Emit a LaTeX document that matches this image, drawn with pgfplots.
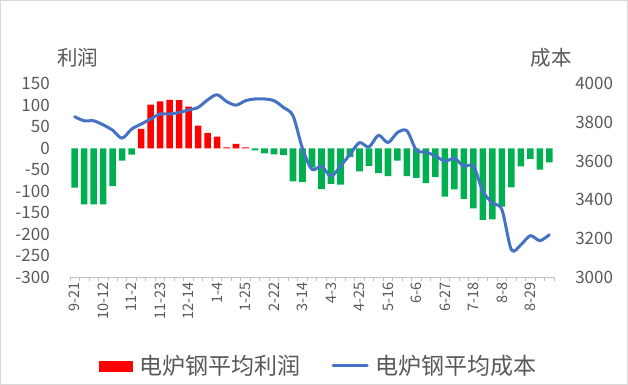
\documentclass[border=0pt]{standalone}
\usepackage{pgfplots}
\pgfplotsset{compat=1.18}
\usepackage{fontspec}
\setmainfont{Noto Sans CJK SC}
\definecolor{cred}{HTML}{FF0000}
\definecolor{cgreen}{HTML}{00B050}
\definecolor{cblue}{HTML}{4472C4}
\definecolor{ctext}{HTML}{595959}
\definecolor{caxis}{HTML}{BFBFBF}
\begin{document}
\begin{tikzpicture}
\path[draw=caxis!60, fill=white, line width=0.75bp] (0.5bp,0.5bp) rectangle (627.5bp,384.5bp);
\node[font=\fontsize{20.5bp}{20.5bp}\selectfont, text=ctext] at (78bp,327bp) {利润};
\node[font=\fontsize{20.5bp}{20.5bp}\selectfont, text=ctext] at (551bp,327bp) {成本};
\begin{axis}[
  at={(70bp,108bp)}, anchor=south west,
  scale only axis, width=484bp, height=193bp,
  xmin=-0.5, xmax=50.5, ymin=-300, ymax=150,
  axis x line*=bottom, axis y line*=left,
  y axis line style={draw=none},
  x axis line style={draw=caxis, line width=0.75bp, -},
  ytick={-300,-250,...,150},
  yticklabels={-300,-250,-200,-150,-100,-50,0,50,100,150},
  ytick style={draw=none},
  yticklabel style={anchor=east, inner sep=0pt, font=\fontsize{17bp}{17bp}\selectfont, text=ctext},
  yticklabel shift=20bp,
  xtick={0,3,...,48},
  xticklabels={9-21,10-12,11-2,11-23,12-14,1-4,1-25,2-22,3-14,4-3,4-25,5-16,6-6,6-27,7-18,8-8,8-29},
  major tick length=0pt,
  minor xtick={-0.5,0.5,...,50.5},
  minor x tick style={draw=caxis, line width=0.75bp},
  tick align=outside,
  minor tick length=4bp,
  xticklabel style={rotate=90, anchor=east, inner sep=0pt, font=\fontsize{14.5bp}{14.5bp}\selectfont, text=ctext},
  xticklabel shift=5bp,
  clip=false,
]
\addplot[ybar, bar width=6.6bp, bar shift=0pt, fill=cgreen, draw=none] coordinates {
(0,-92) (1,-131) (2,-131) (3,-131) (4,-88) (5,-29) (6,-15)
(19,-5) (20,-12) (21,-14) (22,-16) (23,-77) (24,-79) (25,-45) (26,-95) (27,-83) (28,-85) (29,-20)
(30,-54) (31,-41) (32,-58) (33,-65) (34,-29) (35,-65) (36,-69) (37,-81) (38,-67) (39,-113)
(40,-96) (41,-118) (42,-140) (43,-167) (44,-166) (45,-136) (46,-91) (47,-42) (48,-25) (49,-50) (50,-33)
};
\addplot[ybar, bar width=6.6bp, bar shift=0pt, fill=cred, draw=none] coordinates {
(7,45) (8,102) (9,109) (10,113) (11,112) (12,97) (13,53) (14,36) (15,27) (16,2) (17,10) (18,2)
};
\end{axis}
\begin{axis}[
  at={(70bp,108bp)}, anchor=south west,
  scale only axis, width=484bp, height=193bp,
  xmin=-0.5, xmax=50.5, ymin=3000, ymax=4000,
  axis x line=none, axis y line*=right,
  y axis line style={draw=none},
  ytick={3000,3200,...,4000},
  yticklabels={3000,3200,3400,3600,3800,4000},
  ytick style={draw=none},
  major tick length=0pt,
  yticklabel style={anchor=west, inner sep=0pt, font=\fontsize{17bp}{17bp}\selectfont, text=ctext},
  yticklabel shift=21bp,
  legend columns=2,
  legend style={draw=none, fill=none, inner sep=0pt, nodes={inner sep=0pt},
    at={(0.0599,-0.461)}, anchor=west,
    font=\fontsize{23bp}{23bp}\selectfont, text=ctext,
    /tikz/every odd column/.append style={column sep=7bp},
    /tikz/every even column/.append style={column sep=31bp}},
  clip=false,
]
\addlegendimage{legend image code/.code={\fill[cred] (0bp,-5bp) rectangle (33bp,5bp);}}
\addlegendentry{电炉钢平均利润}
\addplot[cblue, line width=3bp, smooth, line join=round, line cap=round,
  legend image code/.code={\draw[cblue, line width=3bp, line cap=round] (1.5bp,0bp) -- (35.5bp,0bp);}] coordinates {
(0,3830) (1,3809) (2,3809) (3,3788) (4,3760) (5,3719) (6,3766) (7,3792) (8,3818) (9,3844)
(10,3844) (11,3852) (12,3865) (13,3878) (14,3917) (15,3944) (16,3909) (17,3890) (18,3913) (19,3922)
(20,3922) (21,3913) (22,3878) (23,3835) (24,3665) (25,3557) (26,3574) (27,3522) (28,3574) (29,3635)
(30,3696) (31,3673) (32,3734) (33,3696) (34,3748) (35,3757) (36,3656) (37,3647) (38,3627) (39,3600)
(40,3614) (41,3574) (42,3574) (43,3444) (44,3383) (45,3349) (46,3141) (47,3167) (48,3214) (49,3188)
(50,3219)
};
\addlegendentry{电炉钢平均成本}
\end{axis}
\end{tikzpicture}
\end{document}
